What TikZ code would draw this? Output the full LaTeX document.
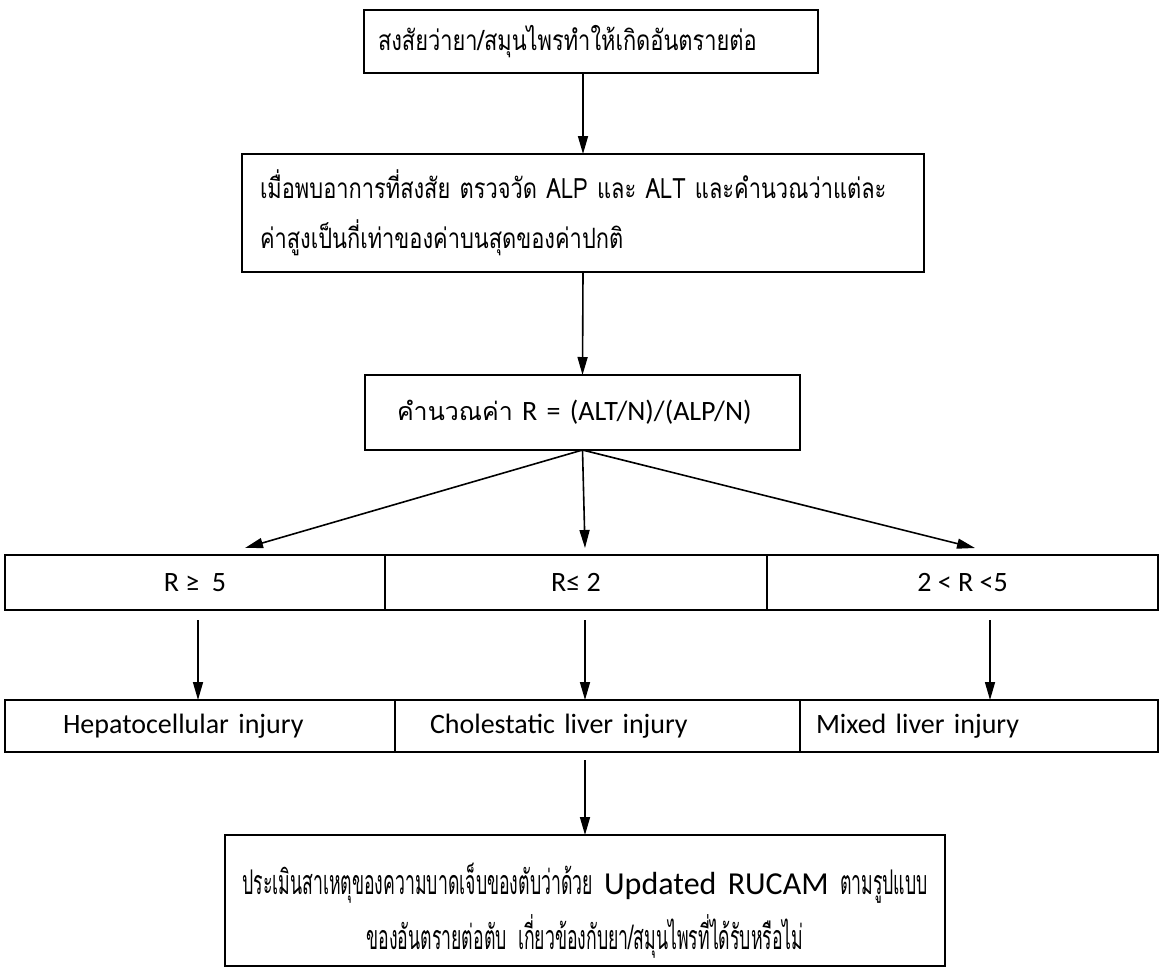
\documentclass[tikz,border=0pt]{standalone}
\usepackage{fontspec}
\setmainfont{Carlito}
\newfontfamily\thaifont[Script=Thai]{Loma}
\newfontfamily\thaiboxfont[Script=Thai,FakeStretch=0.78]{Loma}
\newfontfamily\thainarrow[Script=Thai,FakeStretch=0.52]{Loma}
\usetikzlibrary{arrows.meta,positioning}

\tikzset{
  box/.style={draw, line width=1pt, outer sep=0pt, inner ysep=0pt, anchor=north west},
  cell/.style={draw, line width=1pt, outer sep=0pt, inner ysep=0pt, anchor=north west, font=\fontsize{14}{16}\selectfont},
  thai/.style={font=\thaiboxfont\fontsize{14}{25}\selectfont},
  arr/.style={-{Triangle[width=5pt,length=9pt]}, line width=0.8pt},
}

\begin{document}
\begin{tikzpicture}[x=0.5pt,y=-0.5pt]
        \useasboundingbox (0,0) rectangle (1160,970);
        % Main column
        \node[box, thai, align=left, text width=213pt, inner xsep=7pt, minimum height=31.5pt] (suspect) at (364,10) {สงสัยว่ายา/สมุนไพรทำให้เกิดอันตรายต่อ};
        \node[box, thai, align=left, text width=323pt, inner xsep=9pt, minimum height=59pt] (measure) at (242,154) {เมื่อพบอาการที่สงสัย ตรวจวัด ALP และ ALT และคำนวณว่าแต่ละ\\ค่าสูงเป็นกี่เท่าของค่าบนสุดของค่าปกติ};
        \node[box, align=left, text width=185.5pt, inner xsep=16pt, minimum height=37.5pt, font=\fontsize{14}{17}\selectfont] (ratio) at (365,375) {\mbox{{\thaifont\fontsize{12.5}{17}\selectfont คำนวณค่า} R = (ALT/N)/(ALP/N)}};
        % Ranges of R
        \node[cell, minimum width=190pt, minimum height=27.5pt] (rhigh) at (5,555) {R ≥ \ 5};
        \node[cell, minimum width=191pt, minimum height=27.5pt] (rlow) at (rhigh.north east) {R≤ 2};
        \node[cell, minimum width=195.5pt, minimum height=27.5pt] (rmid) at (rlow.north east) {2 < R <5};
        % Types of injury
        \node[cell, align=left, text width=137pt, inner xsep=29pt, minimum height=26pt] (hepato) at (5,700) {Hepatocellular injury};
        \node[cell, align=left, text width=167.5pt, inner xsep=17.5pt, minimum height=26pt] (chole) at (hepato.north east) {Cholestatic liver injury};
        \node[cell, align=left, text width=163pt, inner xsep=8pt, minimum height=26pt] (mixed) at (chole.north east) {Mixed liver injury};
        % Final assessment
        \node[box, align=center, text width=352pt, inner xsep=4pt, minimum height=65.5pt, font=\thainarrow\fontsize{17}{27.5}\selectfont] (assess) at (225,835) {\rule{0pt}{26pt}\mbox{ประเมินสาเหตุของความบาดเจ็บของตับว่าด้วย {\rmfamily\fontsize{16}{20}\selectfont Updated RUCAM} ตามรูปแบบ}\\\mbox{ของอันตรายต่อตับ เกี่ยวข้องกับยา/สมุนไพรที่ได้รับหรือไม่}};
        % Arrow ends
        \coordinate (toHigh) at (245,548);
        \coordinate (toLow) at (585,548);
        \coordinate (toMid) at (975,548);
        \coordinate (fromHigh) at (198,620);
        \coordinate (fromLow) at (585,620);
        \coordinate (fromMid) at (990,620);
        \coordinate (fromChole) at (585,760);
        % Arrows
        \draw[arr] (measure.north |- suspect.south) -- (measure.north);
        \draw[arr] (measure.south) -- (ratio.north);
        \draw[arr] (ratio.south) -- (toHigh);
        \draw[arr] (ratio.south) -- (toLow);
        \draw[arr] (ratio.south) -- (toMid);
        \draw[arr] (fromHigh) -- (fromHigh |- hepato.north);
        \draw[arr] (fromLow) -- (fromLow |- chole.north);
        \draw[arr] (fromMid) -- (fromMid |- mixed.north);
        \draw[arr] (fromChole) -- (assess.north);
\end{tikzpicture}
\end{document}
